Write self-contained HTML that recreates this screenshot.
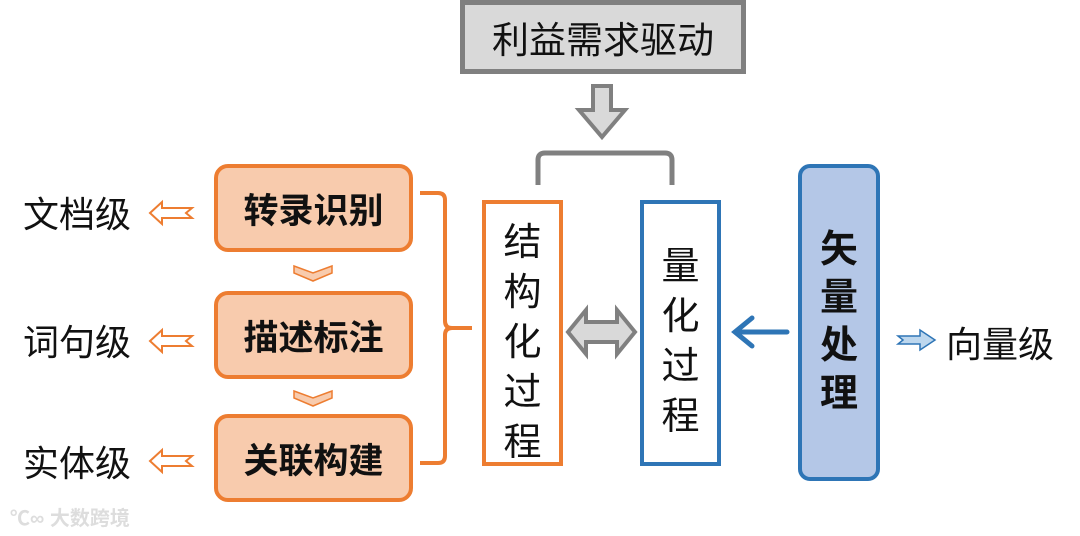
<!DOCTYPE html>
<html><head><meta charset="utf-8"><style>
body{margin:0;width:1080px;height:536px;background:#fff;overflow:hidden;position:relative;font-family:"Liberation Sans","Noto Sans CJK SC",sans-serif}
.a{position:absolute}
.ob{position:absolute;left:214px;width:199px;background:#f8cbad;border:4px solid #ed7d31;border-radius:14px;box-sizing:border-box;display:flex;align-items:center;justify-content:center;font-weight:bold;font-size:35px;color:#111}
.lbl{position:absolute;left:23px;font-size:36px;color:#111}
.vt{position:absolute;font-size:38px;line-height:50px;width:100%;text-align:center;color:#111}
</style></head><body>
<div class="a" style="left:460px;top:0;width:286px;height:74px;background:#d9d9d9;border:5px solid #808080;box-sizing:border-box;font-size:37px;display:flex;align-items:center;justify-content:center;color:#111">利益需求驱动</div>

<div class="ob" style="top:164px;height:88px">转录识别</div>
<div class="ob" style="top:291px;height:88px">描述标注</div>
<div class="ob" style="top:414px;height:88px">关联构建</div>
<div class="lbl" style="top:186px">文档级</div>
<div class="lbl" style="top:314px">词句级</div>
<div class="lbl" style="top:435px">实体级</div>

<div class="a" style="left:482px;top:200px;width:81px;height:266px;border:4px solid #ed7d31;box-sizing:border-box"><div class="vt" style="top:14px">结<br>构<br>化<br>过<br>程</div></div>
<div class="a" style="left:640px;top:200px;width:81px;height:266px;border:4px solid #2e75b6;box-sizing:border-box"><div class="vt" style="top:38px">量<br>化<br>过<br>程</div></div>
<div class="a" style="left:798px;top:164px;width:82px;height:317px;background:#b4c7e7;border:4px solid #2e75b6;border-radius:12px;box-sizing:border-box"><div class="vt" style="top:58px;font-weight:bold;line-height:48px">矢<br>量<br>处<br>理</div></div>
<div class="a" style="left:946px;top:316px;font-size:36px;color:#111">向量级</div>

<svg class="a" style="left:0;top:0" width="1080" height="536">
<g fill="#fff" stroke="#ed7d31" stroke-width="2">
<path d="M150 213 L162 202 L162 208 L192 208 L186 213 L192 218 L162 218 L162 224 Z"/>
<path d="M150 341 L162 330 L162 336 L192 336 L186 341 L192 346 L162 346 L162 352 Z"/>
<path d="M150 461 L162 450 L162 456 L192 456 L186 461 L192 466 L162 466 L162 472 Z"/>
</g>
<g fill="#f8cbad" stroke="#ed7d31" stroke-width="1.5">
<path d="M294 266 L313 273 L332 266 L332 273 L313 281 L294 273 Z"/>
<path d="M294 391 L313 398 L332 391 L332 398 L313 406 L294 398 Z"/>
</g>
<path d="M420 193 L438 193 Q445 193 445 200 L445 321 Q445 328 452 328 L472 328 M452 328 Q445 328 445 335 L445 456 Q445 463 438 463 L420 463" fill="none" stroke="#ed7d31" stroke-width="4"/>
<path d="M593 86 L611 86 L611 110 L625 110 L602 137 L579 110 L593 110 Z" fill="#d9d9d9" stroke="#808080" stroke-width="4"/>
<path d="M538 185 L538 160 Q538 153 545 153 L665 153 Q672 153 672 160 L672 185" fill="none" stroke="#808080" stroke-width="5"/>
<path d="M568 332 L586 310 L586 322 L617 322 L617 310 L635 332 L617 354 L617 342 L586 342 L586 354 Z" fill="#d9d9d9" stroke="#808080" stroke-width="4"/>
<path d="M787 332 L737 332 M752 318 L735 332 L752 346" fill="none" stroke="#2e75b6" stroke-width="5" stroke-linecap="round"/>
<path d="M898 336 L920 336 L920 330 L935 340 L920 350 L920 344 L898 344 L903 340 Z" fill="#bdd7ee" stroke="#2e75b6" stroke-width="1.5"/>
</svg>
<div class="a" style="left:10px;top:502px;font-size:20px;color:#ddd;font-weight:bold">℃∞ 大数跨境</div>
</body></html>
